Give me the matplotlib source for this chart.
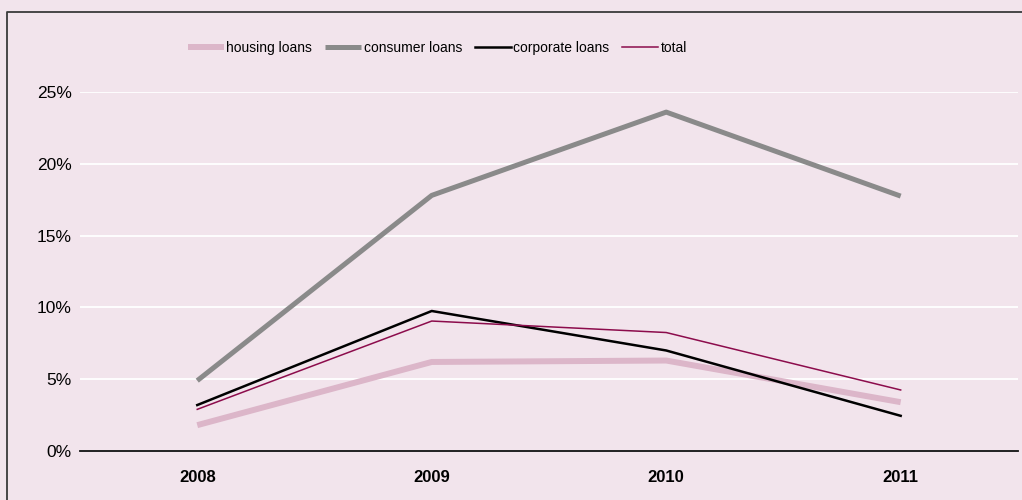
import numpy as np
import matplotlib.pyplot as plt
from matplotlib.lines import Line2D

plt.rcParams['font.family'] = ['Liberation Sans', 'DejaVu Sans']

years = ['2008', '2009', '2010', '2011']
housing = [1.8, 6.2, 6.3, 3.4]
consumer = [4.9, 17.8, 23.6, 17.75]
corporate = [3.2, 9.75, 7.0, 2.45]
total = [2.9, 9.05, 8.25, 4.25]
yticks = [0, 5, 10, 15, 20, 25]

bg = '#f2e4ec'
fig = plt.figure(figsize=(10.22, 5.0), dpi=100, facecolor=bg)
ax = fig.add_axes([0.0783, 0.098, 0.9177, 0.718], facecolor=bg)

x = np.arange(len(years))
ax.plot(x, housing, color='#dcb6c9', lw=4.3, label='housing loans', solid_capstyle='butt')
ax.plot(x, consumer, color='#8a8a8a', lw=3.6, label='consumer loans', solid_capstyle='butt')
ax.plot(x, corporate, color='#000000', lw=1.8, label='corporate loans')
ax.plot(x, total, color='#8c0c4c', lw=1.1, label='total')

ax.set_xlim(-0.5, len(years) - 0.5)
ax.set_ylim(0, 25)
ax.set_yticks(yticks)
ax.set_yticklabels([f'{v}%' for v in yticks], fontsize=12.5)
ax.set_xticks(x)
ax.set_xticklabels(years, fontsize=12, fontweight='bold')
ax.tick_params(axis='y', length=0, pad=6)
ax.tick_params(axis='x', length=0, pad=14)
ax.yaxis.grid(True, color='white', lw=1.3)
ax.set_axisbelow(True)
for s in ['top', 'right', 'left']:
    ax.spines[s].set_visible(False)
ax.spines['bottom'].set_color('#111111')
ax.spines['bottom'].set_linewidth(1.3)

fig.legend(loc='center', bbox_to_anchor=(0.428, 0.904), ncol=4, frameon=False,
           fontsize=10, handlelength=2.6, handletextpad=0.2, columnspacing=0.9)

# outer frame (top and left edges)
fig.add_artist(Line2D([0.0073, 0.0073, 1.0], [0.0, 0.977, 0.977],
                      transform=fig.transFigure, color='#3a3a3a', lw=1.3))

fig.savefig('out.png', dpi=100, facecolor=bg)
